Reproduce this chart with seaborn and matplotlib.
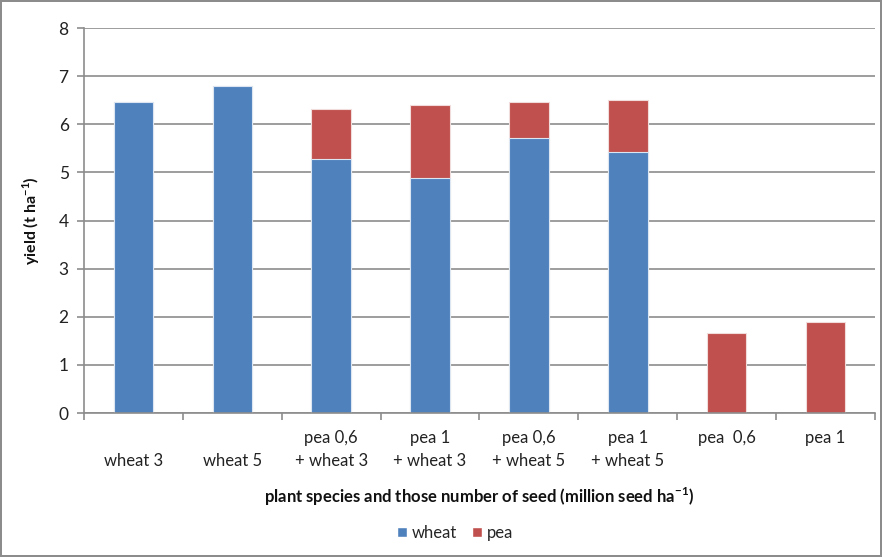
import matplotlib
matplotlib.use("Agg")
import matplotlib.pyplot as plt
from matplotlib.patches import Patch
import numpy as np
import pandas as pd
import seaborn as sns

# data
categories = ["\nwheat 3", "\nwheat 5", "pea 0,6\n+ wheat 3", "pea 1\n+ wheat 3",
              "pea 0,6\n+ wheat 5", "pea 1\n+ wheat 5", "pea  0,6\n", "pea 1\n"]
wheat = [6.47, 6.79, 5.27, 4.88, 5.72, 5.43, 0.0, 0.0]
pea = [0.0, 0.0, 1.05, 1.52, 0.75, 1.08, 1.67, 1.90]

BLUE = "#4F81BD"
RED = "#C0504D"
GRID = "#8C8C8C"

sns.set_theme(style="white")
plt.rcParams["font.family"] = ["Lato", "DejaVu Sans"]
plt.rcParams["mathtext.fontset"] = "custom"
plt.rcParams["mathtext.rm"] = "Lato"
plt.rcParams["mathtext.bf"] = "Lato:bold"

df = pd.DataFrame({"category": categories, "wheat": wheat, "pea": pea})
df["total"] = df["wheat"] + df["pea"]

fig = plt.figure(figsize=(8.82, 5.57), dpi=100)
fig.patch.set_edgecolor("#8C8C8C")
fig.patch.set_linewidth(1.5)
ax = fig.add_axes([0.0952, 0.2585, 0.8968, 0.6912])

# stacked look: draw the total in red, then wheat over it in blue
sns.barplot(data=df, x="category", y="total", color=RED, width=0.4,
            saturation=1, edgecolor="#F2DCDB", linewidth=0.8, ax=ax)
sns.barplot(data=df, x="category", y="wheat", color=BLUE, width=0.4,
            saturation=1, edgecolor="#DCE6F2", linewidth=0.8, ax=ax)

ax.set_ylim(0, 8)
ax.set_xlim(-0.5, len(categories) - 0.5)
ax.set_yticks(range(0, 9))
ax.yaxis.grid(True, color=GRID, linewidth=1.2)
ax.set_axisbelow(True)

for side in ["top", "right"]:
    ax.spines[side].set_visible(False)
for side in ["left", "bottom"]:
    ax.spines[side].set_color(GRID)
    ax.spines[side].set_linewidth(1.2)

ax.tick_params(axis="y", which="major", left=True, length=5, width=1.2,
               color=GRID, labelsize=12.5, pad=6, labelcolor="#222222")
ax.set_xticks(np.arange(len(categories)))
ax.set_xticklabels(categories, fontsize=12, color="#222222", linespacing=1.55)
ax.set_xticks(np.arange(-0.5, len(categories)), minor=True)
ax.tick_params(axis="x", which="major", length=0, pad=12)
ax.tick_params(axis="x", which="minor", bottom=True, length=5, width=1.2, color=GRID)

ax.set_ylabel(r"yield (t ha$^{\mathbf{-1}}$)", fontsize=11.5, fontweight="bold",
              color="#111111", labelpad=12)
ax.set_xlabel(r"plant species and those number of seed (million seed ha$^{\mathbf{-1}}$)",
              fontsize=12, fontweight="bold", color="#111111", labelpad=12)

handles = [Patch(facecolor=BLUE, label="wheat"), Patch(facecolor=RED, label="pea")]
fig.legend(handles=handles, loc="center", bbox_to_anchor=(455 / 882, 1 - 533 / 557),
           ncol=2, frameon=False, fontsize=12, handlelength=0.6, handleheight=0.6,
           handletextpad=0.3, columnspacing=0.9)

fig.savefig("out.png", dpi=100, edgecolor=fig.get_edgecolor())
